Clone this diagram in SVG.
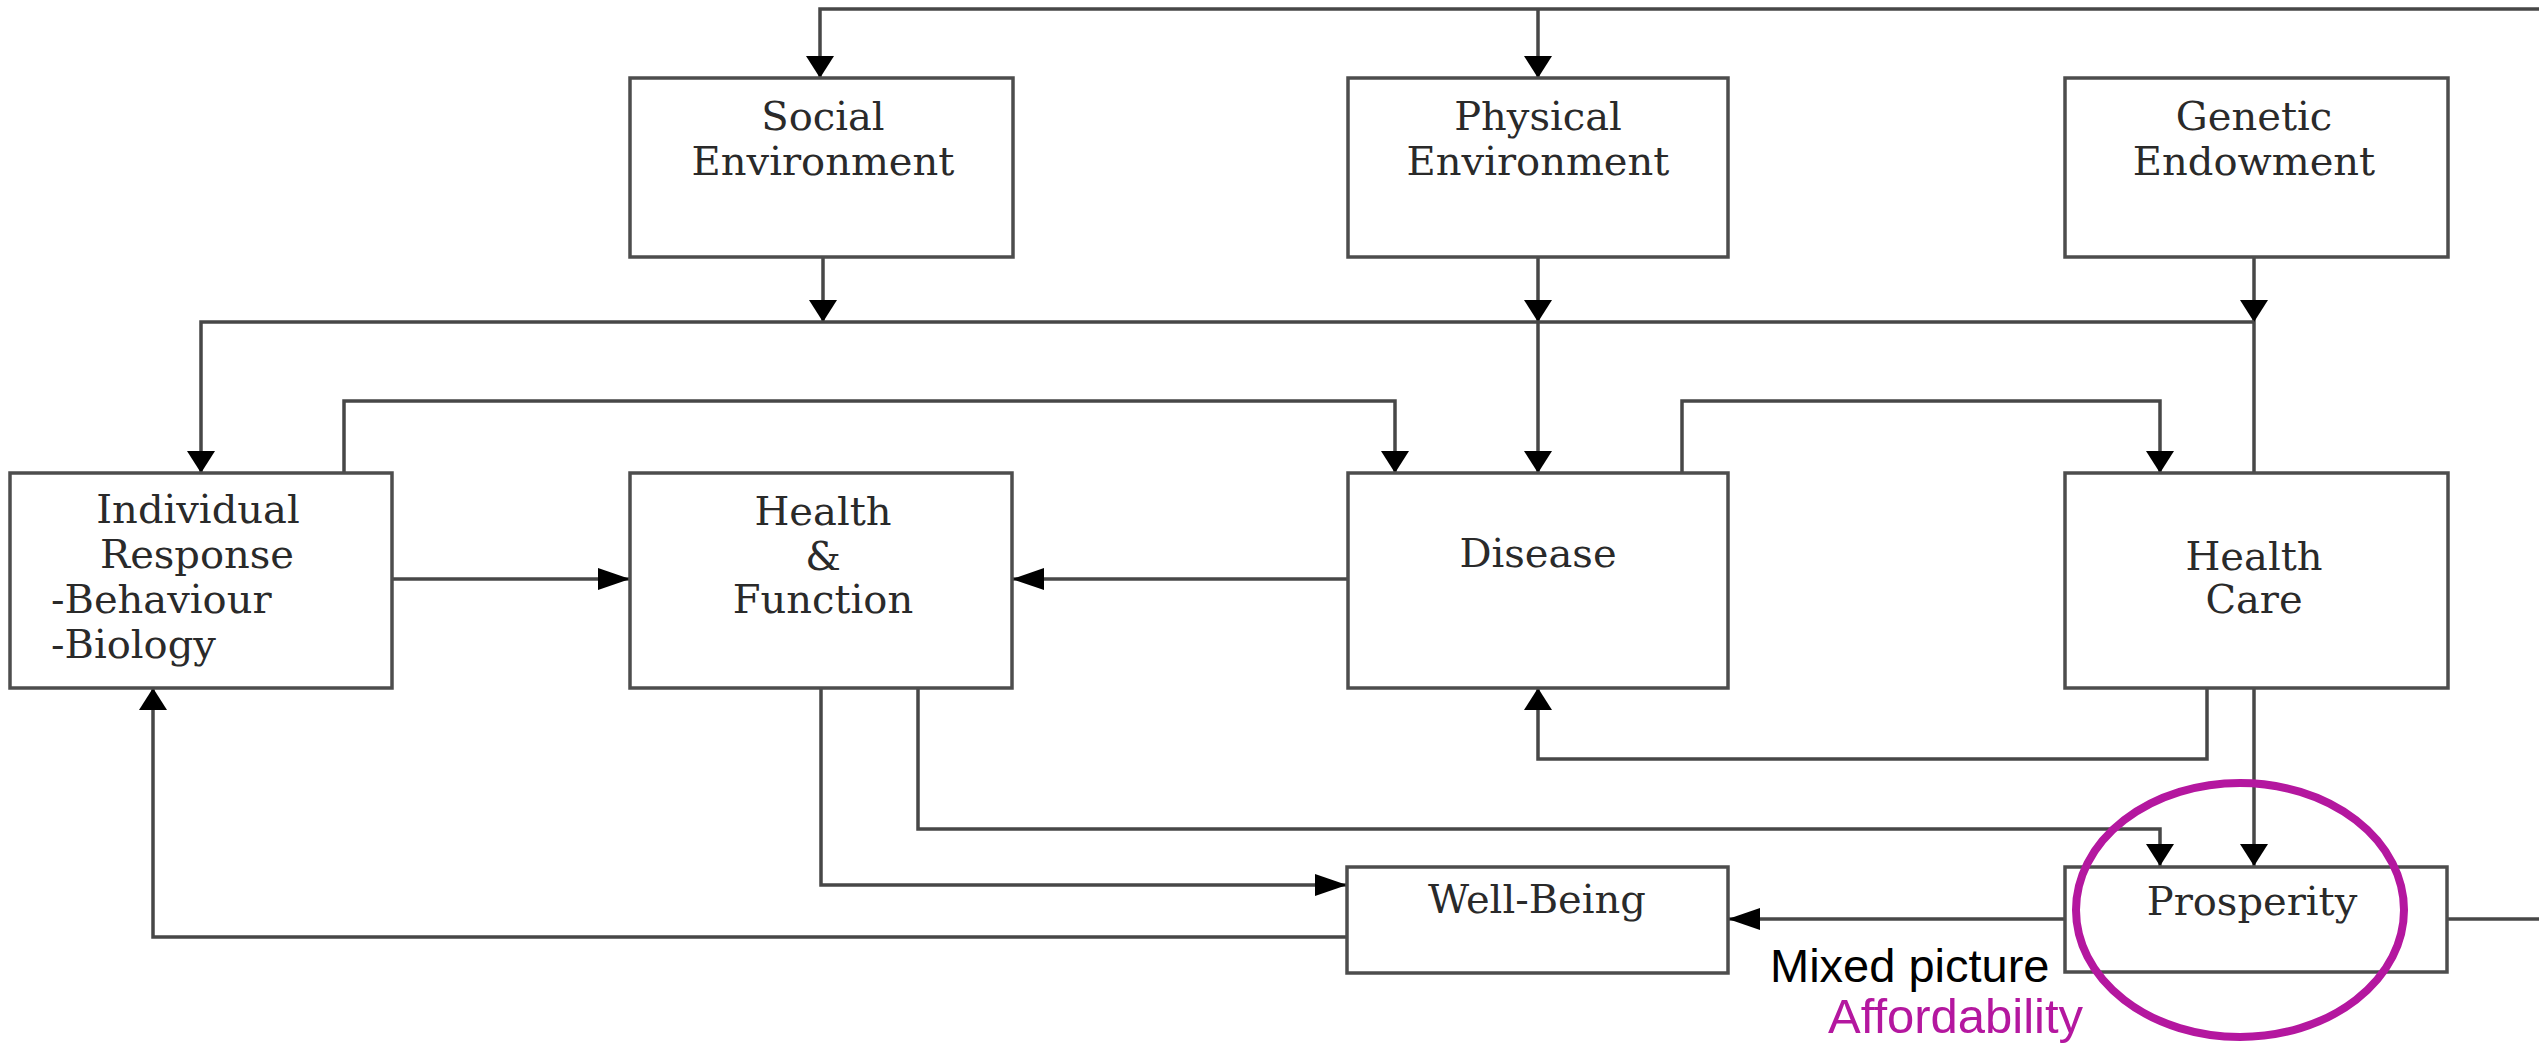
<svg xmlns="http://www.w3.org/2000/svg" width="2539" height="1043" viewBox="0 0 2539 1043">
  <style>
    .box { fill: #ffffff; stroke: #4d4d4d; stroke-width: 3.5; }
    .lbl { font-family: "DejaVu Serif", "Liberation Serif", serif; font-size: 40px; fill: #2a2a2a; text-anchor: middle; }
    .lbl-l { font-family: "DejaVu Serif", "Liberation Serif", serif; font-size: 40px; fill: #2a2a2a; }
    .wire { fill: none; stroke: #474747; stroke-width: 3.5; }
    .wire-h { fill: none; stroke: #474747; stroke-width: 3.5; marker-end: url(#ah); }
    .wire-v { fill: none; stroke: #474747; stroke-width: 3.5; marker-end: url(#av); }
    .note { font-family: "Liberation Sans", Arial, sans-serif; font-size: 47px; }
  </style>
  <defs>
    <!-- arrowhead for horizontal runs -->
    <marker id="ah" markerUnits="userSpaceOnUse" markerWidth="32" markerHeight="22" refX="32" refY="11" orient="auto">
      <path d="M0,0 L32,11 L0,22 z" fill="#000"/>
    </marker>
    <!-- arrowhead for vertical runs (broader and shorter) -->
    <marker id="av" markerUnits="userSpaceOnUse" markerWidth="22" markerHeight="28" refX="22" refY="14" orient="auto">
      <path d="M0,0 L22,14 L0,28 z" fill="#000"/>
    </marker>
  </defs>

  <rect width="2539" height="1043" fill="#ffffff"/>

  <g id="connectors">
    <!-- feedback loop from Prosperity round the top -->
    <path class="wire" d="M2447,919 H2545"/>
    <path class="wire-v" d="M2545,9 H820 V78"/>
    <path class="wire-v" d="M1538,9 V78"/>
    <!-- environments and genetics into the bus -->
    <path class="wire-v" d="M823,257 V322"/>
    <path class="wire-v" d="M1538,257 V322"/>
    <path class="wire-v" d="M1538,322 V473"/>
    <path class="wire-v" d="M2254,257 V322"/>
    <path class="wire" d="M2254,322 V473"/>
    <path class="wire-v" d="M2254,322 H201 V473"/>
    <!-- second row cross links -->
    <path class="wire-v" d="M344,473 V401 H1395 V473"/>
    <path class="wire-v" d="M1682,473 V401 H2160 V473"/>
    <path class="wire-h" d="M392,579 H630"/>
    <path class="wire-h" d="M1348,579 H1012"/>
    <path class="wire-v" d="M2207,688 V759 H1538 V688"/>
    <!-- into Prosperity and Well-Being -->
    <path class="wire-v" d="M2254,688 V866"/>
    <path class="wire-v" d="M918,688 V829 H2160 V866"/>
    <path class="wire-h" d="M821,688 V885 H1347"/>
    <path class="wire-h" d="M2065,919 H1728"/>
    <path class="wire-v" d="M1347,937 H153 V688"/>
  </g>

  <g id="social-environment">
    <rect class="box" x="630" y="78" width="383" height="179"/>
    <text class="lbl" x="823" y="130">Social</text>
    <text class="lbl" x="823" y="175">Environment</text>
  </g>
  <g id="physical-environment">
    <rect class="box" x="1348" y="78" width="380" height="179"/>
    <text class="lbl" x="1538" y="130">Physical</text>
    <text class="lbl" x="1538" y="175">Environment</text>
  </g>
  <g id="genetic-endowment">
    <rect class="box" x="2065" y="78" width="383" height="179"/>
    <text class="lbl" x="2254" y="130">Genetic</text>
    <text class="lbl" x="2254" y="175">Endowment</text>
  </g>
  <g id="individual-response">
    <rect class="box" x="10" y="473" width="382" height="215"/>
    <text class="lbl" x="198" y="523">Individual</text>
    <text class="lbl" x="197" y="568">Response</text>
    <text class="lbl-l" x="51" y="613">-Behaviour</text>
    <text class="lbl-l" x="51" y="658">-Biology</text>
  </g>
  <g id="health-function">
    <rect class="box" x="630" y="473" width="382" height="215"/>
    <text class="lbl" x="823" y="525">Health</text>
    <text class="lbl" x="823" y="570">&amp;</text>
    <text class="lbl" x="823" y="613">Function</text>
  </g>
  <g id="disease">
    <rect class="box" x="1348" y="473" width="380" height="215"/>
    <text class="lbl" x="1538" y="567">Disease</text>
  </g>
  <g id="health-care">
    <rect class="box" x="2065" y="473" width="383" height="215"/>
    <text class="lbl" x="2254" y="570">Health</text>
    <text class="lbl" x="2254" y="613">Care</text>
  </g>
  <g id="well-being">
    <rect class="box" x="1347" y="867" width="381" height="106"/>
    <text class="lbl" x="1537" y="913">Well-Being</text>
  </g>
  <g id="prosperity">
    <rect class="box" x="2065" y="867" width="382" height="105"/>
    <text class="lbl" x="2252" y="915">Prosperity</text>
  </g>

  <g id="annotation">
    <ellipse cx="2240" cy="910" rx="164" ry="127" fill="none" stroke="#b4179f" stroke-width="8"/>
    <text class="note" x="1770" y="982" fill="#000000">Mixed picture</text>
    <text class="note" x="1828" y="1033" fill="#b4179f" style="font-size:49px">Affordability</text>
  </g>
</svg>
